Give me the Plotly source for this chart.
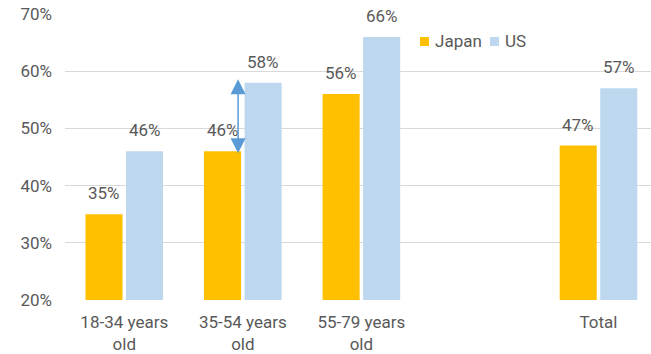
import plotly.graph_objects as go

categories = ["18-34 years<br>old", "35-54 years<br>old", "55-79 years<br>old", " ", "Total"]
series_names = ["Japan", "US"]
japan = [35, 46, 56, None, 47]
us = [46, 58, 66, None, 57]
y_ticks = [20, 30, 40, 50, 60, 70]
y_tick_labels = ["20%", "30%", "40%", "50%", "60%", "70%"]

JAPAN_C = "#FFC000"
US_C = "#BDD7EE"
TXT = "#595959"
FONT = "Roboto, Arial, sans-serif"
FS = 17

W, H = 651, 354
ML, MR, MT, MB = 65, 0, 14, 54
PW, PH = W - ML - MR, H - MT - MB

def px_x(px):
    return (px - ML) / PW

def px_y(py):
    return (H - MB - py) / PH

fig = go.Figure()
fig.add_trace(go.Bar(name=series_names[0], x=categories, y=japan, marker_color=JAPAN_C,
                     marker_line_width=0))
fig.add_trace(go.Bar(name=series_names[1], x=categories, y=us, marker_color=US_C,
                     marker_line_width=0))

# data labels
for i, c in enumerate(categories):
    for vals, shift in ((japan, -20.25), (us, 20.25)):
        v = vals[i]
        if v is None:
            continue
        fig.add_annotation(x=i, y=v, xref="x", yref="y", text=f"{v}%",
                           showarrow=False, xshift=shift, yshift=9,
                           yanchor="bottom", xanchor="center",
                           font=dict(family=FONT, size=FS, color=TXT))

# double-headed arrow showing gap in 35-54 group
fig.add_annotation(x=0.96, y=us[1] + 0.6, ax=0.96, ay=japan[1] - 0.6,
                   xref="x", yref="y", axref="x", ayref="y", text="",
                   showarrow=True, arrowhead=2, arrowside="end+start",
                   arrowsize=2, arrowwidth=1.5, arrowcolor="#5B9BD5")

# custom legend (square + text)
legend_items = [(series_names[0], JAPAN_C, 420, 433), (series_names[1], US_C, 490, 503)]
for name, col, sq_x, tx_x in legend_items:
    fig.add_shape(type="rect", xref="paper", yref="paper",
                  x0=px_x(sq_x), x1=px_x(sq_x + 9), y0=px_y(46), y1=px_y(37),
                  fillcolor=col, line_width=0)
    fig.add_annotation(xref="paper", yref="paper", x=px_x(tx_x), y=px_y(41),
                       text=name, showarrow=False, xanchor="left", yanchor="middle",
                       font=dict(family=FONT, size=FS, color=TXT))

fig.update_layout(
    width=W, height=H,
    margin=dict(l=ML, r=MR, t=MT, b=MB, autoexpand=False),
    paper_bgcolor="white", plot_bgcolor="white",
    barmode="group", bargap=0.316, bargroupgap=0.086,
    font=dict(family=FONT, size=FS, color=TXT),
    showlegend=False,
    xaxis=dict(type="category", range=[-0.5, 4.443], showgrid=False,
               showline=False, ticks="", zeroline=False,
               ticklabelstandoff=10,
               tickfont=dict(family=FONT, size=FS, color=TXT)),
    yaxis=dict(range=[20, 70], tickvals=y_ticks, ticktext=y_tick_labels,
               showgrid=True, gridcolor="#D9D9D9", gridwidth=1,
               zeroline=False, showline=False, ticks="",
               ticklabelstandoff=12,
               tickfont=dict(family=FONT, size=FS, color=TXT)),
)

fig.write_html("out.html")
